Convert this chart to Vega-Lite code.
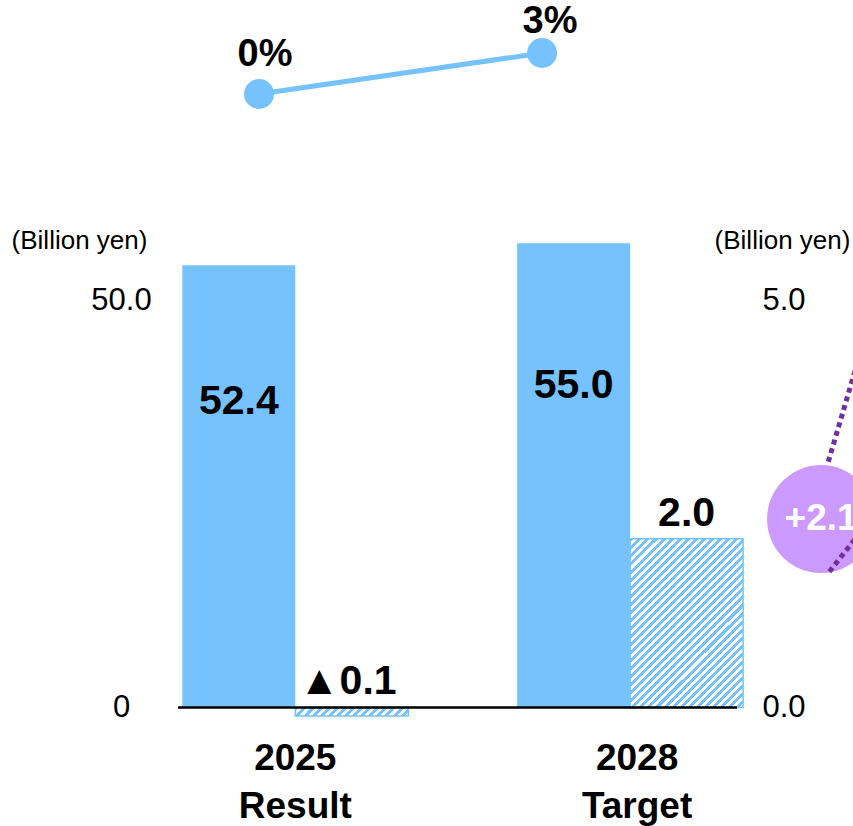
{
  "$schema": "https://vega.github.io/schema/vega-lite/v6.json",
  "width": 559,
  "height": 700,
  "autosize": {"type": "none"},
  "padding": {"left": 178, "top": 7.5, "right": 116, "bottom": 118.5},
  "background": "white",
  "config": {"view": {"stroke": null}, "font": "Liberation Sans"},
  "datasets": {
    "bars": [
      {"period": "2025 Result", "series": "Net sales", "value": 52.4, "label": "52.4"},
      {"period": "2025 Result", "series": "Operating profit", "value": -0.1, "label": "▲0.1"},
      {"period": "2028 Target", "series": "Net sales", "value": 55.0, "label": "55.0"},
      {"period": "2028 Target", "series": "Operating profit", "value": 2.0, "label": "2.0"}
    ],
    "rate": [{"year": 2025, "rate": 0}, {"year": 2028, "rate": 0.03}],
    "bubble": [{"x": 2030.958, "y": 2.233, "text": "+2.1"}],
    "dots": [
      {"line": "a", "x": 2031.035, "y": 2.912},
      {"line": "a", "x": 2031.477, "y": 4.592},
      {"line": "b", "x": 2031.046, "y": 1.609},
      {"line": "b", "x": 2031.477, "y": 2.22}
    ]
  },
  "layer": [
    {
      "data": {"name": "bars"},
      "transform": [{"filter": "datum.series === 'Net sales'"}],
      "encoding": {
        "x": {"field": "period", "type": "nominal", "sort": null,
          "scale": {"range": [4.3, 565.1], "paddingInner": 0.325, "paddingOuter": 0},
          "axis": {"orient": "bottom", "title": null, "domain": false, "ticks": false, "grid": false,
            "labelAngle": 0, "labelFontSize": 37, "labelFontWeight": "bold", "labelColor": "black",
            "labelFont": "Liberation Sans", "labelExpr": "split(datum.label, ' ')", "labelLineHeight": 48,
            "labelPadding": 33, "labelBaseline": "top", "labelAlign": "center",
            "labelOffset": {"condition": {"test": "datum.value == '2028 Target'", "value": 7}, "value": 0}}},
        "xOffset": {"field": "series", "type": "nominal", "scale": {"domain": ["Net sales", "Operating profit"], "paddingInner": 0, "paddingOuter": 0}},
        "y": {"field": "value", "type": "quantitative",
          "scale": {"domain": [0, 82.94], "nice": false, "zero": true},
          "axis": {"orient": "left", "values": [0, 50], "domain": false, "ticks": false, "grid": false,
            "labelFontSize": 31, "labelColor": "black", "labelFont": "Liberation Sans",
            "labelAlign": "center", "labelBaseline": "middle", "labelPadding": 57,
            "labelOffset": {"condition": {"test": "datum.value == 50", "value": 15}, "value": 0},
            "labelExpr": "datum.value == 0 ? '0' : format(datum.value, '.1f')",
            "labelFlush": false, "labelOverlap": false,
            "title": "(Billion yen)", "titleAngle": 0, "titleX": -99, "titleY": 232.5,
            "titleAlign": "center", "titleBaseline": "middle", "titleFontSize": 26,
            "titleFontWeight": "normal", "titleColor": "black", "titleFont": "Liberation Sans"}}
      },
      "layer": [
        {"mark": {"type": "bar", "color": "#75c2ff"}},
        {
          "transform": [{"filter": "datum.period === '2025 Result'"}],
          "mark": {"type": "text", "fontSize": 41, "fontWeight": "bold", "color": "black", "baseline": "middle", "dy": 137, "font": "Liberation Sans"},
          "encoding": {"text": {"field": "label"}}
        },
        {
          "transform": [{"filter": "datum.period === '2028 Target'"}],
          "mark": {"type": "text", "fontSize": 41, "fontWeight": "bold", "color": "black", "baseline": "middle", "dy": 143, "font": "Liberation Sans"},
          "encoding": {"text": {"field": "label"}}
        }
      ]
    },
    {
      "data": {"name": "bars"},
      "transform": [{"filter": "datum.series === 'Operating profit'"}],
      "encoding": {
        "x": {"field": "period", "type": "nominal", "sort": null,
          "scale": {"range": [4.3, 565.1], "paddingInner": 0.325, "paddingOuter": 0}, "axis": null},
        "xOffset": {"field": "series", "type": "nominal", "scale": {"domain": ["Net sales", "Operating profit"], "paddingInner": 0, "paddingOuter": 0}},
        "y": {"field": "value", "type": "quantitative",
          "scale": {"domain": [0, 8.294], "nice": false, "zero": true},
          "axis": {"orient": "right", "values": [0, 5], "domain": false, "ticks": false, "grid": false,
            "labelFontSize": 31, "labelColor": "black", "labelFont": "Liberation Sans",
            "labelAlign": "left", "labelBaseline": "middle", "labelPadding": 25,
            "labelOffset": {"condition": {"test": "datum.value == 5", "value": 15}, "value": 0},
            "labelExpr": "format(datum.value, '.1f')",
            "labelFlush": false, "labelOverlap": false,
            "title": "(Billion yen)", "titleAngle": 0, "titleX": 45, "titleY": 232.5,
            "titleAlign": "center", "titleBaseline": "middle", "titleFontSize": 26,
            "titleFontWeight": "normal", "titleColor": "black", "titleFont": "Liberation Sans"}}
      },
      "layer": [
        {
          "transform": [{"filter": "datum.period === '2025 Result'"}],
          "mark": {"type": "bar", "stroke": "#75c2ff", "strokeWidth": 1.5,
            "fill": {"gradient": "linear", "x1": 0, "y1": 0, "x2": 1.0684, "y2": 0.0794, "stops": [
              {"offset": 0, "color": "#75c2ff"},
              {"offset": 0.0333, "color": "#75c2ff"}, {"offset": 0.0333, "color": "#ffffff"},
              {"offset": 0.0667, "color": "#ffffff"}, {"offset": 0.0667, "color": "#75c2ff"},
              {"offset": 0.1, "color": "#75c2ff"}, {"offset": 0.1, "color": "#ffffff"},
              {"offset": 0.1333, "color": "#ffffff"}, {"offset": 0.1333, "color": "#75c2ff"},
              {"offset": 0.1667, "color": "#75c2ff"}, {"offset": 0.1667, "color": "#ffffff"},
              {"offset": 0.2, "color": "#ffffff"}, {"offset": 0.2, "color": "#75c2ff"},
              {"offset": 0.2333, "color": "#75c2ff"}, {"offset": 0.2333, "color": "#ffffff"},
              {"offset": 0.2667, "color": "#ffffff"}, {"offset": 0.2667, "color": "#75c2ff"},
              {"offset": 0.3, "color": "#75c2ff"}, {"offset": 0.3, "color": "#ffffff"},
              {"offset": 0.3333, "color": "#ffffff"}, {"offset": 0.3333, "color": "#75c2ff"},
              {"offset": 0.3667, "color": "#75c2ff"}, {"offset": 0.3667, "color": "#ffffff"},
              {"offset": 0.4, "color": "#ffffff"}, {"offset": 0.4, "color": "#75c2ff"},
              {"offset": 0.4333, "color": "#75c2ff"}, {"offset": 0.4333, "color": "#ffffff"},
              {"offset": 0.4667, "color": "#ffffff"}, {"offset": 0.4667, "color": "#75c2ff"},
              {"offset": 0.5, "color": "#75c2ff"}, {"offset": 0.5, "color": "#ffffff"},
              {"offset": 0.5333, "color": "#ffffff"}, {"offset": 0.5333, "color": "#75c2ff"},
              {"offset": 0.5667, "color": "#75c2ff"}, {"offset": 0.5667, "color": "#ffffff"},
              {"offset": 0.6, "color": "#ffffff"}, {"offset": 0.6, "color": "#75c2ff"},
              {"offset": 0.6333, "color": "#75c2ff"}, {"offset": 0.6333, "color": "#ffffff"},
              {"offset": 0.6667, "color": "#ffffff"}, {"offset": 0.6667, "color": "#75c2ff"},
              {"offset": 0.7, "color": "#75c2ff"}, {"offset": 0.7, "color": "#ffffff"},
              {"offset": 0.7333, "color": "#ffffff"}, {"offset": 0.7333, "color": "#75c2ff"},
              {"offset": 0.7667, "color": "#75c2ff"}, {"offset": 0.7667, "color": "#ffffff"},
              {"offset": 0.8, "color": "#ffffff"}, {"offset": 0.8, "color": "#75c2ff"},
              {"offset": 0.8333, "color": "#75c2ff"}, {"offset": 0.8333, "color": "#ffffff"},
              {"offset": 0.8667, "color": "#ffffff"}, {"offset": 0.8667, "color": "#75c2ff"},
              {"offset": 0.9, "color": "#75c2ff"}, {"offset": 0.9, "color": "#ffffff"},
              {"offset": 0.9333, "color": "#ffffff"}, {"offset": 0.9333, "color": "#75c2ff"},
              {"offset": 0.9667, "color": "#75c2ff"}, {"offset": 0.9667, "color": "#ffffff"},
              {"offset": 1, "color": "#ffffff"}
            ]}}
        },
        {
          "transform": [{"filter": "datum.period === '2028 Target'"}],
          "mark": {"type": "bar", "stroke": "#75c2ff", "strokeWidth": 1.5,
            "fill": {"gradient": "linear", "x1": 0, "y1": 0, "x2": 0.771, "y2": 1.1531, "stops": [
              {"offset": 0, "color": "#75c2ff"},
              {"offset": 0.0143, "color": "#75c2ff"}, {"offset": 0.0143, "color": "#ffffff"},
              {"offset": 0.0286, "color": "#ffffff"}, {"offset": 0.0286, "color": "#75c2ff"},
              {"offset": 0.0429, "color": "#75c2ff"}, {"offset": 0.0429, "color": "#ffffff"},
              {"offset": 0.0571, "color": "#ffffff"}, {"offset": 0.0571, "color": "#75c2ff"},
              {"offset": 0.0714, "color": "#75c2ff"}, {"offset": 0.0714, "color": "#ffffff"},
              {"offset": 0.0857, "color": "#ffffff"}, {"offset": 0.0857, "color": "#75c2ff"},
              {"offset": 0.1, "color": "#75c2ff"}, {"offset": 0.1, "color": "#ffffff"},
              {"offset": 0.1143, "color": "#ffffff"}, {"offset": 0.1143, "color": "#75c2ff"},
              {"offset": 0.1286, "color": "#75c2ff"}, {"offset": 0.1286, "color": "#ffffff"},
              {"offset": 0.1429, "color": "#ffffff"}, {"offset": 0.1429, "color": "#75c2ff"},
              {"offset": 0.1571, "color": "#75c2ff"}, {"offset": 0.1571, "color": "#ffffff"},
              {"offset": 0.1714, "color": "#ffffff"}, {"offset": 0.1714, "color": "#75c2ff"},
              {"offset": 0.1857, "color": "#75c2ff"}, {"offset": 0.1857, "color": "#ffffff"},
              {"offset": 0.2, "color": "#ffffff"}, {"offset": 0.2, "color": "#75c2ff"},
              {"offset": 0.2143, "color": "#75c2ff"}, {"offset": 0.2143, "color": "#ffffff"},
              {"offset": 0.2286, "color": "#ffffff"}, {"offset": 0.2286, "color": "#75c2ff"},
              {"offset": 0.2429, "color": "#75c2ff"}, {"offset": 0.2429, "color": "#ffffff"},
              {"offset": 0.2571, "color": "#ffffff"}, {"offset": 0.2571, "color": "#75c2ff"},
              {"offset": 0.2714, "color": "#75c2ff"}, {"offset": 0.2714, "color": "#ffffff"},
              {"offset": 0.2857, "color": "#ffffff"}, {"offset": 0.2857, "color": "#75c2ff"},
              {"offset": 0.3, "color": "#75c2ff"}, {"offset": 0.3, "color": "#ffffff"},
              {"offset": 0.3143, "color": "#ffffff"}, {"offset": 0.3143, "color": "#75c2ff"},
              {"offset": 0.3286, "color": "#75c2ff"}, {"offset": 0.3286, "color": "#ffffff"},
              {"offset": 0.3429, "color": "#ffffff"}, {"offset": 0.3429, "color": "#75c2ff"},
              {"offset": 0.3571, "color": "#75c2ff"}, {"offset": 0.3571, "color": "#ffffff"},
              {"offset": 0.3714, "color": "#ffffff"}, {"offset": 0.3714, "color": "#75c2ff"},
              {"offset": 0.3857, "color": "#75c2ff"}, {"offset": 0.3857, "color": "#ffffff"},
              {"offset": 0.4, "color": "#ffffff"}, {"offset": 0.4, "color": "#75c2ff"},
              {"offset": 0.4143, "color": "#75c2ff"}, {"offset": 0.4143, "color": "#ffffff"},
              {"offset": 0.4286, "color": "#ffffff"}, {"offset": 0.4286, "color": "#75c2ff"},
              {"offset": 0.4429, "color": "#75c2ff"}, {"offset": 0.4429, "color": "#ffffff"},
              {"offset": 0.4571, "color": "#ffffff"}, {"offset": 0.4571, "color": "#75c2ff"},
              {"offset": 0.4714, "color": "#75c2ff"}, {"offset": 0.4714, "color": "#ffffff"},
              {"offset": 0.4857, "color": "#ffffff"}, {"offset": 0.4857, "color": "#75c2ff"},
              {"offset": 0.5, "color": "#75c2ff"}, {"offset": 0.5, "color": "#ffffff"},
              {"offset": 0.5143, "color": "#ffffff"}, {"offset": 0.5143, "color": "#75c2ff"},
              {"offset": 0.5286, "color": "#75c2ff"}, {"offset": 0.5286, "color": "#ffffff"},
              {"offset": 0.5429, "color": "#ffffff"}, {"offset": 0.5429, "color": "#75c2ff"},
              {"offset": 0.5571, "color": "#75c2ff"}, {"offset": 0.5571, "color": "#ffffff"},
              {"offset": 0.5714, "color": "#ffffff"}, {"offset": 0.5714, "color": "#75c2ff"},
              {"offset": 0.5857, "color": "#75c2ff"}, {"offset": 0.5857, "color": "#ffffff"},
              {"offset": 0.6, "color": "#ffffff"}, {"offset": 0.6, "color": "#75c2ff"},
              {"offset": 0.6143, "color": "#75c2ff"}, {"offset": 0.6143, "color": "#ffffff"},
              {"offset": 0.6286, "color": "#ffffff"}, {"offset": 0.6286, "color": "#75c2ff"},
              {"offset": 0.6429, "color": "#75c2ff"}, {"offset": 0.6429, "color": "#ffffff"},
              {"offset": 0.6571, "color": "#ffffff"}, {"offset": 0.6571, "color": "#75c2ff"},
              {"offset": 0.6714, "color": "#75c2ff"}, {"offset": 0.6714, "color": "#ffffff"},
              {"offset": 0.6857, "color": "#ffffff"}, {"offset": 0.6857, "color": "#75c2ff"},
              {"offset": 0.7, "color": "#75c2ff"}, {"offset": 0.7, "color": "#ffffff"},
              {"offset": 0.7143, "color": "#ffffff"}, {"offset": 0.7143, "color": "#75c2ff"},
              {"offset": 0.7286, "color": "#75c2ff"}, {"offset": 0.7286, "color": "#ffffff"},
              {"offset": 0.7429, "color": "#ffffff"}, {"offset": 0.7429, "color": "#75c2ff"},
              {"offset": 0.7571, "color": "#75c2ff"}, {"offset": 0.7571, "color": "#ffffff"},
              {"offset": 0.7714, "color": "#ffffff"}, {"offset": 0.7714, "color": "#75c2ff"},
              {"offset": 0.7857, "color": "#75c2ff"}, {"offset": 0.7857, "color": "#ffffff"},
              {"offset": 0.8, "color": "#ffffff"}, {"offset": 0.8, "color": "#75c2ff"},
              {"offset": 0.8143, "color": "#75c2ff"}, {"offset": 0.8143, "color": "#ffffff"},
              {"offset": 0.8286, "color": "#ffffff"}, {"offset": 0.8286, "color": "#75c2ff"},
              {"offset": 0.8429, "color": "#75c2ff"}, {"offset": 0.8429, "color": "#ffffff"},
              {"offset": 0.8571, "color": "#ffffff"}, {"offset": 0.8571, "color": "#75c2ff"},
              {"offset": 0.8714, "color": "#75c2ff"}, {"offset": 0.8714, "color": "#ffffff"},
              {"offset": 0.8857, "color": "#ffffff"}, {"offset": 0.8857, "color": "#75c2ff"},
              {"offset": 0.9, "color": "#75c2ff"}, {"offset": 0.9, "color": "#ffffff"},
              {"offset": 0.9143, "color": "#ffffff"}, {"offset": 0.9143, "color": "#75c2ff"},
              {"offset": 0.9286, "color": "#75c2ff"}, {"offset": 0.9286, "color": "#ffffff"},
              {"offset": 0.9429, "color": "#ffffff"}, {"offset": 0.9429, "color": "#75c2ff"},
              {"offset": 0.9571, "color": "#75c2ff"}, {"offset": 0.9571, "color": "#ffffff"},
              {"offset": 0.9714, "color": "#ffffff"}, {"offset": 0.9714, "color": "#75c2ff"},
              {"offset": 0.9857, "color": "#75c2ff"}, {"offset": 0.9857, "color": "#ffffff"},
              {"offset": 1, "color": "#ffffff"}
            ]}}
        },
        {
          "transform": [{"filter": "datum.value >= 0"}],
          "mark": {"type": "text", "fontSize": 41, "fontWeight": "bold", "color": "black", "baseline": "alphabetic", "dy": -13, "font": "Liberation Sans"},
          "encoding": {"text": {"field": "label"}}
        },
        {
          "transform": [{"filter": "datum.value < 0"}],
          "mark": {"type": "text", "fontSize": 41, "fontWeight": "bold", "color": "black", "baseline": "alphabetic", "dy": -14, "dx": -4, "font": "Liberation Sans"},
          "encoding": {
            "y": {"datum": 0, "type": "quantitative"},
            "text": {"field": "label"}
          }
        },
        {
          "mark": {"type": "rule", "color": "black", "strokeWidth": 2},
          "encoding": {
            "x": null,
            "xOffset": null,
            "y": {"datum": 0, "type": "quantitative"}
          }
        }
      ]
    },
    {
      "data": {"name": "rate"},
      "encoding": {
        "x": {"field": "year", "type": "quantitative", "scale": {"domain": [2024.141, 2030.067], "nice": false, "zero": false}, "axis": null},
        "y": {"field": "rate", "type": "quantitative", "scale": {"domain": [-0.4489, 0.06329], "nice": false, "zero": false}, "axis": null}
      },
      "layer": [
        {"mark": {"type": "line", "color": "#75c2ff", "strokeWidth": 5}},
        {"mark": {"type": "point", "filled": true, "shape": "circle", "size": 900, "color": "#75c2ff", "opacity": 1}},
        {"transform": [{"filter": "datum.year === 2025"}],
         "mark": {"type": "text", "fontSize": 38, "fontWeight": "bold", "color": "black", "baseline": "middle", "dx": 6, "dy": -39, "font": "Liberation Sans"},
         "encoding": {"text": {"field": "rate", "format": ".0%"}}},
        {"transform": [{"filter": "datum.year === 2028"}],
         "mark": {"type": "text", "fontSize": 38, "fontWeight": "bold", "color": "black", "baseline": "middle", "dx": 8, "dy": -31, "font": "Liberation Sans"},
         "encoding": {"text": {"field": "rate", "format": ".0%"}}}
      ]
    },
    {
      "encoding": {
        "x": {"field": "x", "type": "quantitative", "scale": {"domain": [2024.141, 2030.067], "nice": false, "zero": false}, "axis": null},
        "y": {"field": "y", "type": "quantitative", "scale": {"domain": [0, 8.294], "nice": false, "zero": false}, "axis": null}
      },
      "layer": [
        {
          "data": {"name": "dots"},
          "transform": [{"filter": "datum.line === 'a'"}],
          "mark": {"type": "line", "color": "#7030a0", "strokeWidth": 5, "strokeDash": [5, 4], "strokeCap": "butt"}
        },
        {
          "data": {"name": "bubble"},
          "mark": {"type": "point", "filled": true, "shape": "circle", "size": 11664, "color": "#cc99ff", "opacity": 1}
        },
        {
          "data": {"name": "dots"},
          "transform": [{"filter": "datum.line === 'b'"}],
          "mark": {"type": "line", "color": "#7030a0", "strokeWidth": 5, "strokeDash": [5, 4], "strokeCap": "butt"}
        },
        {
          "data": {"name": "bubble"},
          "mark": {"type": "text", "fontSize": 37, "fontWeight": "bold", "color": "white", "baseline": "middle", "font": "Liberation Sans"},
          "encoding": {"text": {"field": "text"}}
        }
      ]
    }
  ],
  "resolve": {"scale": {"x": "independent", "y": "independent", "xOffset": "independent"}}
}
